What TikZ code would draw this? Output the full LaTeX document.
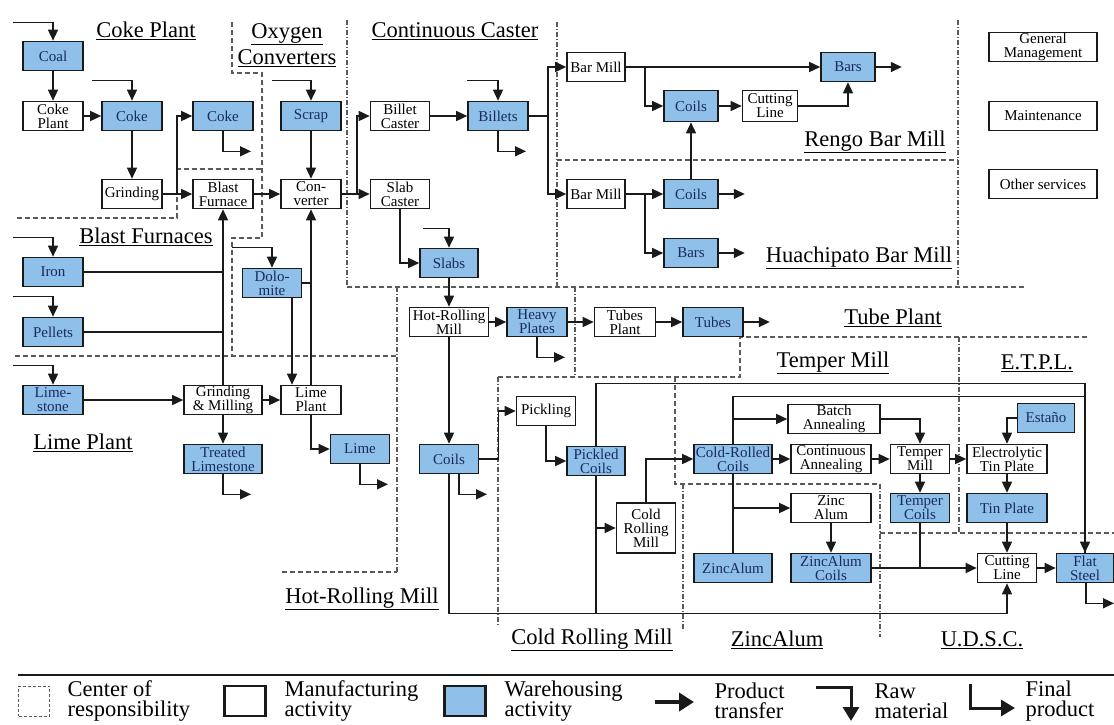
\documentclass[tikz,border=0pt]{standalone}
\usepackage{fontspec}
\setmainfont{Liberation Serif}
\usetikzlibrary{arrows.meta,calc,positioning}
\definecolor{StoreBlue}{HTML}{8EC0EA}
\definecolor{StoreText}{HTML}{1B2A5E}
\definecolor{ZoneGray}{HTML}{5A5A5A}
\definecolor{LineDark}{HTML}{1A1A1A}

% raw material coming into a store: node, dx, dy of the start
\newcommand{\rawin}[3]{%
  \coordinate (#1-raw) at ([shift={(#2,#3)}]#1.north);
  \draw[arr] (#1-raw) -| (#1.north);}
% final product leaving a node: name, node, x offset on its bottom side
\newcommand{\finalout}[3]{%
  \coordinate (#1-top) at ([xshift=#3]#2.south);
  \coordinate (#1-fin) at ([shift={(28,20)}]#1-top);
  \draw[arr] (#1-top) |- (#1-fin);}
% short transfer to the right
\newcommand{\sendout}[1]{%
  \coordinate (#1-out) at ([xshift=26]#1.east);
  \draw[arr] (#1.east) -- (#1-out);}

\begin{document}
\begin{tikzpicture}[x=1pt,y=-1pt,
    proc/.style={draw=LineDark,line width=1.6pt,fill=white,minimum width=60pt,
      minimum height=29pt,inner xsep=0.5pt,inner ysep=0pt,align=center,
      font=\fontsize{15}{14}\selectfont},
    store/.style={proc,fill=StoreBlue,text=StoreText},
    area/.style={align=center,font=\fontsize{22.5}{26}\selectfont},
    legtext/.style={anchor=west,align=left,font=\fontsize{22.5}{19.5}\selectfont},
    arr/.style={-{Triangle[length=11pt,width=10pt]},line width=1.4pt,LineDark},
    link/.style={line width=1.4pt,LineDark},
    zone/.style={ZoneGray,line width=1.1pt,dash pattern=on 5pt off 3pt},
    zonedot/.style={ZoneGray,line width=1.1pt,dash pattern=on 5pt off 2pt on 1pt off 2pt}]
  \useasboundingbox (0,0) rectangle (1114,724);

  % centers of responsibility
  \draw[zone] (232,22) -- (232,73) -- (262,73) -- (262,238) -- (232,238) -- (232,357);
  \draw[zone] (17,218) -- (177,218) -- (177,169) -- (262,169);
  \draw[zone] (15,356) -- (397,356);
  \draw[zonedot] (347,20) -- (347,287);
  \draw[zone] (347,287) -- (1025,287);
  \draw[zonedot] (557,22) -- (557,287);
  \draw[zone] (557,160) -- (958,160);
  \draw[zonedot] (958,20) -- (958,287);
  \draw[zonedot] (397,287) -- (397,572);
  \draw[zone] (282,572) -- (397,572);
  \draw[zonedot] (575,287) -- (575,377);
  \draw[zone] (498,377) -- (740,377) -- (740,337) -- (1087,337);
  \draw[zonedot] (498,377) -- (498,626);
  \draw[zone] (675,377) -- (675,484) -- (880,484);
  \draw[zonedot] (683,484) -- (683,631);
  \draw[zonedot] (880,484) -- (880,637);
  \draw[zonedot] (959,337) -- (959,533);
  \draw[zone] (880,533) -- (1114,533);

  \node[area] (lblcoke) at (146,31) {\underline{Coke Plant}};
  \node[area] (lbloxy) at (287,45) {\underline{Oxygen}\\\underline{Converters}};
  \node[area] (lblcast) at (455,31) {\underline{Continuous Caster}};
  \node[area] (lblrengo) at (875,142) {\underline{Rengo Bar Mill}};
  \node[area] (lblhuach) at (859,258) {\underline{Huachipato Bar Mill}};
  \node[area] (lblblast) at (146,237) {\underline{Blast Furnaces}};
  \node[area] (lbllime) at (83,443) {\underline{Lime Plant}};
  \node[area] (lblhot) at (362,599) {\underline{Hot-Rolling Mill}};
  \node[area] (lbltube) at (893,318) {\underline{Tube Plant}};
  \node[area] (lbltemper) at (833,363) {\underline{Temper Mill}};
  \node[area] (lbletpl) at (1037,363) {\underline{E.T.P.L.}};
  \node[area] (lblcold) at (592,640) {\underline{Cold Rolling Mill}};
  \node[area] (lblzinc) at (777,640) {\underline{ZincAlum}};
  \node[area] (lbludsc) at (982,640) {\underline{U.D.S.C.}};

  % coke, blast furnace, converter
  \node[store] (coal) at (53,56) {Coal};
  \node[proc] (cokeplant) at (53,116) {Coke\\Plant};
  \node[store] (coke) at (132,116) {Coke};
  \node[proc] (grind) at (132,194) {Grinding};
  \node[store] (coke2) at (223,116) {Coke};
  \node[proc] (bf) at (223,194) {Blast\\Furnace};
  \node[store] (scrap) at (311,116) {Scrap};
  \node[proc] (conv) at (311,194) {Con-\\verter};
  \node[store] (iron) at (53,272) {Iron};
  \node[store] (pellets) at (53,332) {Pellets};
  \node[store] (limestone) at (53,400) {Lime-\\stone};
  \node[proc,minimum width=78pt] (gm) at (223,400) {Grinding\\\& Milling};
  \node[proc] (limeplant) at (311,400) {Lime\\Plant};
  \node[store,minimum width=78pt] (treated) at (223,459) {Treated\\Limestone};
  \node[store,minimum width=59pt] (dolo) at (272,283) {Dolo-\\mite};
  \node[store,minimum width=59pt] (lime) at (360,449) {Lime};

  % casters and bar mills
  \node[proc,minimum width=59pt] (billet) at (400,116) {Billet\\Caster};
  \node[store] (billets) at (498,116) {Billets};
  \node[proc,minimum width=59pt] (slab) at (400,194) {Slab\\Caster};
  \node[store,minimum width=58pt] (slabs) at (449,263) {Slabs};
  \node[proc,minimum width=58pt] (barmill1) at (596,67) {Bar Mill};
  \node[proc,minimum width=58pt] (barmill2) at (596,194) {Bar Mill};
  \node[store,minimum width=54pt,minimum height=31pt] (coils1) at (691,106) {Coils};
  \node[store,minimum width=54pt] (coils2) at (691,194) {Coils};
  \node[store,minimum width=54pt] (bars1) at (848,67) {Bars};
  \node[store,minimum width=54pt] (bars2) at (691,253) {Bars};
  \node[proc,minimum width=55pt,minimum height=31pt] (cutbar) at (770,106) {Cutting\\Line};

  % services
  \node[proc,minimum width=108pt] (genman) at (1043,47) {General\\Management};
  \node[proc,minimum width=108pt] (maint) at (1043,116) {Maintenance};
  \node[proc,minimum width=108pt] (other) at (1043,184) {Other services};

  % rolling mills
  \node[proc,minimum width=79pt] (hrm) at (449,322) {Hot-Rolling\\Mill};
  \node[store] (heavy) at (537,322) {Heavy\\Plates};
  \node[proc,minimum width=61pt] (tubesplant) at (625,322) {Tubes\\Plant};
  \node[store] (tubes) at (713,322) {Tubes};
  \node[store,minimum width=59pt] (coilsh) at (449,459) {Coils};
  \node[proc,minimum width=59pt] (pickling) at (546,411) {Pickling};
  \node[store,minimum width=58pt] (pickled) at (596,461) {Pickled\\Coils};
  \node[proc,minimum width=59pt,minimum height=50pt] (crm) at (646,528) {Cold\\Rolling\\Mill};
  \node[store,minimum width=78pt] (crc) at (733,459) {Cold-Rolled\\Coils};
  \node[proc,minimum width=92pt] (batch) at (834,419) {Batch\\Annealing};
  \node[proc,minimum width=80pt] (contann) at (831,459) {Continuous\\Annealing};
  \node[proc,minimum width=59pt] (temper) at (920,459) {Temper\\Mill};
  \node[store,minimum width=59pt] (tcoils) at (920,508) {Temper\\Coils};
  \node[proc,minimum width=80pt] (etp) at (1007,459) {Electrolytic\\Tin Plate};
  \node[store,minimum width=57pt] (estano) at (1046,418) {Estaño};
  \node[store,minimum width=80pt] (tinplate) at (1007,508) {Tin Plate};
  \node[proc,minimum width=80pt] (zinc) at (831,508) {Zinc\\Alum};
  \node[store,minimum width=80pt] (zacoils) at (831,568) {ZincAlum\\Coils};
  \node[store,minimum width=78pt] (zincal) at (733,568) {ZincAlum};
  \node[proc,minimum width=59pt] (cutline) at (1007,568) {Cutting\\Line};
  \node[store,minimum width=57pt] (flat) at (1085,568) {Flat\\Steel};

  % raw materials
  \rawin{coal}{-40}{-18}
  \rawin{coke}{-40}{-20}
  \rawin{scrap}{-39}{-20}
  \rawin{billets}{-31}{-20}
  \rawin{slabs}{-26}{-19}
  \rawin{iron}{-40}{-19}
  \rawin{pellets}{-40}{-20}
  \rawin{limestone}{-40}{-19}
  \rawin{dolo}{-40}{-20}

  % product transfers
  \draw[arr] (coal) -- (cokeplant);
  \draw[arr] (cokeplant) -- (coke);
  \draw[arr] (coke) -- (grind);
  \draw[arr] (grind) -- (bf);
  \draw[arr] (grind.east) -- ++(14,0) |- (coke2.west);
  \draw[arr] (bf) -- (conv);
  \draw[arr] (scrap) -- (conv);
  \draw[arr] (conv) -- (slab);
  \draw[arr] (conv.east) -- ++(15,0) |- (billet.west);
  \draw[arr] (billet) -- (billets);
  \draw[arr] (billets.east) -- ++(19,0) |- (barmill1.west);
  \draw[arr] (billets.east) -- ++(19,0) |- (barmill2.west);
  \draw[arr] (barmill1) -- (bars1);
  \draw[arr] (barmill1.east) -- ++(19,0) |- (coils1.west);
  \draw[arr] (coils1) -- (cutbar);
  \draw[arr] (cutbar.east) -| (bars1.south);
  \draw[arr] (coils2) -- (coils1);
  \draw[arr] (barmill2) -- (coils2);
  \draw[arr] (barmill2.east) -- ++(19,0) |- (bars2.west);
  \draw[arr] (slab.south) |- (slabs.west);
  \draw[arr] (slabs) -- (hrm);
  \draw[link] (iron.east) -- (iron.east -| bf.south);
  \draw[link] (pellets.east) -- (pellets.east -| bf.south);
  \draw[arr] (gm.north) -- (bf.south);
  \draw[arr] (limestone) -- (gm);
  \draw[arr] (gm) -- (limeplant);
  \draw[arr] (gm) -- (treated);
  \draw[arr] ([xshift=20]dolo.south) -- ([xshift=20]dolo.south |- limeplant.north);
  \draw[link] (dolo.east) -- (dolo.east -| conv.south);
  \draw[arr] (limeplant.north) -- (conv.south);
  \draw[arr] (limeplant.south) |- (lime.west);
  \draw[arr] (hrm) -- (heavy);
  \draw[arr] (heavy) -- (tubesplant);
  \draw[arr] (tubesplant) -- (tubes);
  \draw[arr] (hrm) -- (coilsh);
  \draw[arr] (coilsh.east) -- ++(19,0) |- (pickling.west);
  \draw[arr] (pickling.south) |- (pickled.west);
  \path (pickled.north) ++(0,-62) coordinate (topruna);
  \path (crc.north) ++(0,-47) coordinate (toprunb);
  \draw[arr] (pickled.north) -- (topruna) -| (flat.north);
  \draw[link] (crc.north) -- (toprunb) -| (flat.north);
  \path (coilsh.south) ++(0,139) coordinate (botrun);
  \draw[arr] (coilsh.south) -- (botrun) -| (cutline.south);
  \draw[link] (pickled.south) -- (pickled.south |- botrun);
  \draw[arr] (pickled.south |- crm.west) -- (crm.west);
  \draw[arr] (crm.north) |- (crc.west);
  \draw[arr] (crc) -- (contann);
  \draw[arr] (crc.north |- batch.west) -- (batch.west);
  \draw[link] (crc.south) -- (zincal.north);
  \draw[arr] (crc.south |- zinc.west) -- (zinc.west);
  \draw[arr] (batch.east) -| (temper.north);
  \draw[arr] (contann) -- (temper);
  \draw[arr] (temper) -- (etp);
  \draw[arr] (temper) -- (tcoils);
  \draw[arr] (estano.west) -| (etp.north);
  \draw[arr] (etp) -- (tinplate);
  \draw[arr] (tinplate) -- (cutline);
  \draw[arr] (zinc) -- (zacoils);
  \draw[arr] (zacoils) -- (cutline);
  \draw[link] (tcoils.south) -- (tcoils.south |- cutline.west);
  \draw[arr] (cutline) -- (flat);

  % final products
  \finalout{cokeout}{coke2}{0}
  \finalout{billetsout}{billets}{0}
  \finalout{treatedout}{treated}{0}
  \finalout{limeout}{lime}{0}
  \finalout{heavyout}{heavy}{0}
  \finalout{coilsout}{coilsh}{10}
  \finalout{flatout}{flat}{1}
  \sendout{bars1}
  \sendout{coils2}
  \sendout{bars2}
  \sendout{tubes}

  % legend
  \coordinate (rulel) at (18,675);
  \coordinate (ruler) at (1114,675);
  \draw[line width=1.6pt,LineDark] (rulel) -- (ruler);
  \node[draw=ZoneGray,line width=1pt,dash pattern=on 3pt off 2pt,minimum width=31pt,
    minimum height=30pt] (legzone) at (34,701) {};
  \node[legtext] (legzonetxt) at (64,701) {Center of\\responsibility};
  \node[proc,line width=2.2pt,minimum width=41pt,minimum height=30pt] (legproc) at (245,701) {};
  \node[legtext] (legproctxt) at (281,701) {Manufacturing\\activity};
  \node[store,line width=2.2pt,minimum width=41pt,minimum height=30pt] (legstore) at (465,701) {};
  \node[legtext] (legstoretxt) at (501,701) {Warehousing\\activity};
  \coordinate (legmovea) at (655,702);
  \coordinate (legmoveb) at (694,702);
  \draw[line width=4pt,-{Triangle[length=15pt,width=18pt]},LineDark] (legmovea) -- (legmoveb);
  \node[legtext] (legmovetxt) at (711,701) {Product\\transfer};
  \coordinate (legrawa) at (816,687);
  \coordinate (legrawb) at (851,721);
  \draw[line width=3pt,-{Triangle[length=14pt,width=16pt]},LineDark] (legrawa) -| (legrawb);
  \node[legtext] (legrawtxt) at (871,701) {Raw\\material};
  \coordinate (legfina) at (970,684);
  \coordinate (legfinb) at (1015,708);
  \draw[line width=3pt,-{Triangle[length=14pt,width=16pt]},LineDark] (legfina) |- (legfinb);
  \node[legtext] (legfintxt) at (1022,701) {Final\\product};
\end{tikzpicture}
\end{document}
